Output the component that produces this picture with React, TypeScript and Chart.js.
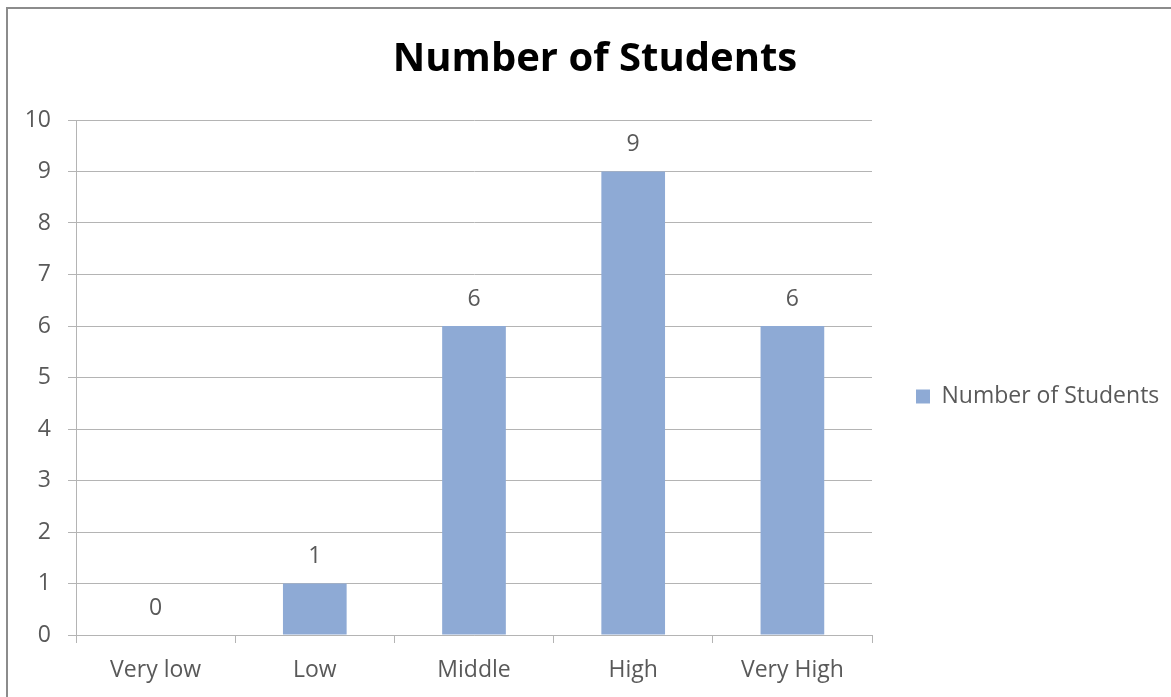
import React, { useEffect, useRef } from "react";
import { Chart, registerables } from "chart.js";

Chart.register(...registerables);

const categories = ["Very low", "Low", "Middle", "High", "Very High"];
const seriesName = "Number of Students";
const values = [0, 1, 6, 9, 6];
const yTicks = [0, 1, 2, 3, 4, 5, 6, 7, 8, 9, 10];

const FONT = "'Open Sans', sans-serif";
const TEXT = "#595959";
const GRID = "#b4b4b4";
const BAR = "#8eaad5";
const LEGEND_WIDTH = 299;

const dataLabels = {
  id: "dataLabels",
  afterDatasetsDraw(chart: any) {
    const ctx = chart.ctx;
    ctx.save();
    ctx.font = `23px ${FONT}`;
    ctx.fillStyle = TEXT;
    ctx.textAlign = "center";
    ctx.textBaseline = "middle";
    chart.data.datasets.forEach((ds: any, i: number) => {
      const meta = chart.getDatasetMeta(i);
      meta.data.forEach((el: any, j: number) => {
        ctx.fillText(String(ds.data[j]), el.x, el.y - 27);
      });
    });
    ctx.restore();
  },
};

// give the right-hand legend a fixed width (Chart.js caps side boxes otherwise)
const legendWidth = {
  id: "legendWidth",
  beforeLayout(chart: any) {
    const lg = chart.legend;
    if (lg && !lg.__fixedWidth) {
      const orig = lg.fit.bind(lg);
      lg.fit = function () {
        orig();
        this.width = LEGEND_WIDTH;
      };
      lg.__fixedWidth = true;
    }
  },
};

export default function App() {
  const ref = useRef<HTMLCanvasElement>(null);
  useEffect(() => {
    if (!ref.current) return;
    const chart = new Chart(ref.current, {
      type: "bar",
      data: {
        labels: categories,
        datasets: [
          {
            label: seriesName,
            data: values,
            backgroundColor: BAR,
            borderWidth: 0,
            barPercentage: 0.4,
            categoryPercentage: 1,
          },
        ],
      },
      plugins: [dataLabels, legendWidth],
      options: {
        responsive: false,
        animation: false,
        layout: { padding: { left: 19, right: 0, top: 0, bottom: 0 } },
        plugins: {
          title: {
            display: true,
            text: "Number of Students",
            color: "#000",
            font: { family: FONT, size: 40, weight: "bold", lineHeight: 1.2 },
            padding: { top: 36, bottom: 36 },
          },
          legend: {
            display: true,
            position: "right",
            fullSize: false,
            title: {
              display: true,
              text: "",
              font: { size: 10, lineHeight: 1 },
              padding: { top: 0, bottom: 28 },
            },
            labels: {
              color: TEXT,
              font: { family: FONT, size: 23 },
              boxWidth: 14,
              boxHeight: 14,
              padding: 44,
            },
          },
          tooltip: { enabled: false },
        },
        scales: {
          x: {
            offset: true,
            grid: {
              display: true,
              offset: true,
              drawOnChartArea: false,
              drawTicks: true,
              tickLength: 8,
              color: GRID,
            },
            border: { display: true, color: GRID },
            ticks: {
              color: TEXT,
              font: { family: FONT, size: 23 },
              padding: 14,
            },
            afterFit: (scale: any) => {
              scale.height = 62;
            },
          },
          y: {
            min: 0,
            max: 10,
            afterBuildTicks: (scale: any) => {
              scale.ticks = yTicks.map((v) => ({ value: v }));
            },
            grid: {
              color: GRID,
              drawTicks: true,
              tickLength: 8,
            },
            border: { display: true, color: GRID },
            ticks: {
              color: TEXT,
              font: { family: FONT, size: 23 },
              padding: 17,
            },
            afterFit: (scale: any) => {
              scale.width = 57;
            },
          },
        },
      },
    });
    return () => chart.destroy();
  }, []);

  return (
    <>
      <div
        style={{
          position: "fixed",
          left: 6,
          top: 7,
          width: 1300,
          height: 900,
          border: "2px solid #8c8c8c",
          boxSizing: "border-box",
        }}
      />
      <canvas
        ref={ref}
        width={1171}
        height={697}
        style={{ position: "fixed", left: 0, top: 0, width: 1171, height: 697 }}
      />
    </>
  );
}
